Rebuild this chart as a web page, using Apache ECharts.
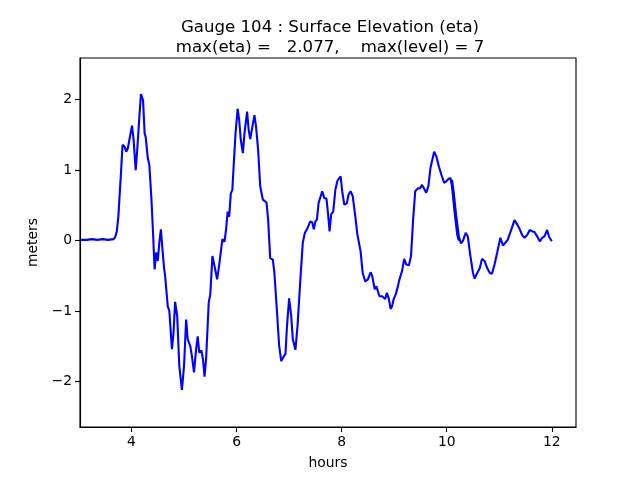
<!DOCTYPE html>
<html>
<head>
<meta charset="utf-8">
<script src="https://cdn.jsdelivr.net/npm/echarts@6/dist/echarts.min.js"></script>
<style>html,body{margin:0;padding:0;background:#fff}#c{width:640px;height:480px}</style>
</head>
<body>
<div id="c"></div>
<script>
var titleText = 'Gauge 104 : Surface Elevation (eta)\nmax(eta) =   2.077,    max(level) = 7';
var xTicks = [4, 6, 8, 10, 12];
var yTicks = [-2, -1, 0, 1, 2];
var hours = [
  3.04, 3.15, 3.25, 3.35, 3.45, 3.55, 3.66, 3.69, 3.72, 3.75, 3.80, 3.83, 3.87, 3.90, 3.93, 3.96,
  4.01, 4.04, 4.08, 4.11, 4.15, 4.18, 4.22, 4.25, 4.27, 4.31, 4.34, 4.38, 4.41, 4.44, 4.47, 4.50,
  4.53, 4.56, 4.59, 4.62, 4.64, 4.69, 4.72, 4.77, 4.80, 4.83, 4.87, 4.91, 4.96, 5.00, 5.04, 5.07,
  5.12, 5.15, 5.19, 5.23, 5.26, 5.29, 5.33, 5.36, 5.39, 5.42, 5.47, 5.50, 5.54, 5.58, 5.63, 5.67,
  5.70, 5.73, 5.77, 5.80, 5.83, 5.86, 5.89, 5.92, 5.94, 5.98, 6.02, 6.05, 6.08, 6.12, 6.15, 6.20,
  6.23, 6.26, 6.29, 6.34, 6.37, 6.41, 6.45, 6.50, 6.57, 6.60, 6.64, 6.69, 6.72, 6.77, 6.81, 6.85,
  6.90, 6.93, 6.96, 7.00, 7.04, 7.07, 7.12, 7.16, 7.21, 7.26, 7.30, 7.34, 7.37, 7.40, 7.44, 7.47,
  7.50, 7.53, 7.56, 7.63, 7.67, 7.71, 7.74, 7.77, 7.80, 7.84, 7.88, 7.92, 7.98, 8.01, 8.05, 8.10,
  8.13, 8.17, 8.21, 8.26, 8.30, 8.36, 8.40, 8.45, 8.50, 8.55, 8.58, 8.63, 8.66, 8.69, 8.72, 8.77,
  8.80, 8.83, 8.86, 8.90, 8.93, 8.96, 8.99, 9.03, 9.07, 9.10, 9.15, 9.19, 9.23, 9.28, 9.32, 9.36,
  9.40, 9.45, 9.49, 9.53, 9.58, 9.61, 9.65, 9.69, 9.76, 9.80, 9.85, 9.90, 9.95, 9.99, 10.03, 10.07,
  10.10, 10.15, 10.20, 10.23, 10.10, 10.13, 10.18, 10.23, 10.27, 10.31, 10.36, 10.40, 10.45, 10.50,
  10.53, 10.58, 10.63, 10.67, 10.72, 10.77, 10.82, 10.86, 10.91, 10.96, 11.02, 11.07, 11.10, 11.16,
  11.23, 11.29, 11.34, 11.39, 11.44, 11.48, 11.53, 11.58, 11.63, 11.67, 11.72, 11.77, 11.82, 11.86,
  11.91, 11.95, 11.98, 12.00
];
var eta = [
  0.01, 0.01, 0.02, 0.01, 0.02, 0.01, 0.02, 0.05, 0.13, 0.34, 0.96, 1.36, 1.33, 1.26, 1.31, 1.29,
  1.63, 1.43, 1.00, 1.29, 1.76, 2.077, 1.99, 1.52, 1.47, 1.17, 1.07, 0.58, 0.11, -0.41, -0.17, -0.29,
  -0.03, 0.16, -0.13, -0.39, -0.50, -0.93, -1.00, -1.54, -1.31, -0.87, -1.07, -1.78, -2.12, -1.78, -1.12, -1.40,
  -1.50, -1.64, -1.87, -1.54, -1.36, -1.59, -1.56, -1.68, -1.93, -1.68, -0.88, -0.76, -0.22, -0.36, -0.55, -0.34,
  -0.34, 0.02, -0.02, 0.16, 0.41, 0.34, 0.67, 0.72, 1.00, 1.52, 1.87, 1.71, 1.43, 1.24, 1.52, 1.83,
  1.57, 1.44, 1.44, 1.78, 1.62, 1.29, 0.77, 0.58, 0.54, 0.30, -0.25, -0.27, -0.46, -1.02, -1.49, -1.71,
  -1.64, -1.61, -1.21, -0.82, -1.07, -1.40, -1.55, -1.21, -0.60, -0.03, 0.11, 0.16, 0.16, 0.27, 0.26, 0.16,
  0.27, 0.30, 0.53, 0.70, 0.60, 0.60, 0.39, 0.13, 0.37, 0.41, 0.72, 0.85, 0.91, 0.70, 0.51, 0.53,
  0.65, 0.70, 0.63, 0.34, 0.08, -0.15, -0.46, -0.58, -0.55, -0.45, -0.50, -0.69, -0.65, -0.66, -0.79, -0.79,
  -0.78, -0.83, -0.74, -0.83, -0.97, -0.93, -0.83, -0.76, -0.65, -0.55, -0.43, -0.26, -0.34, -0.35, -0.22, 0.30,
  0.70, 0.74, 0.74, 0.79, 0.72, 0.68, 0.77, 1.03, 1.26, 1.20, 1.05, 0.93, 0.82, 0.84, 0.87, 0.89,
  0.77, 0.40, 0.08, 0.00, 0.86, 0.70, 0.35, 0.06, -0.04, 0.00, 0.11, 0.06, -0.22, -0.46,
  -0.54, -0.46, -0.39, -0.26, -0.29, -0.39, -0.46, -0.47, -0.34, -0.17, 0.04, -0.07, -0.07, 0.01,
  0.16, 0.29, 0.23, 0.16, 0.07, 0.04, 0.08, 0.15, 0.13, 0.12, 0.06, -0.01, 0.04, 0.06,
  0.15, 0.05, 0.04, -0.01
];
var pts = hours.map(function (h, i) { return [h, eta[i]]; });
function fmt(v) { return v < 0 ? '\u2212' + Math.abs(v) : String(v); }
var FONT = 'DejaVu Sans';
var chart = echarts.init(document.getElementById('c'), null, { renderer: 'canvas' });
chart.setOption({
  animation: false,
  backgroundColor: '#ffffff',
  title: {
    text: titleText,
    left: 325, top: 13, textAlign: 'center',
    textStyle: { fontFamily: FONT, fontSize: 16.6, fontWeight: 'normal', color: '#000', lineHeight: 19.5 }
  },
  grid: { left: 80, right: 64, top: 58, bottom: 53, show: true, borderColor: '#000', borderWidth: 1.1, backgroundColor: 'transparent' },
  xAxis: {
    type: 'value', min: 3.02, max: 12.46,
    name: 'hours', nameLocation: 'middle', nameGap: 29,
    nameTextStyle: { fontFamily: FONT, fontSize: 13.9, color: '#000' },
    axisLine: { show: true, onZero: false, lineStyle: { color: '#000', width: 1.1 } },
    axisTick: { show: true, inside: false, length: 5, lineStyle: { color: '#000', width: 1.1 }, customValues: xTicks },
    axisLabel: { fontFamily: FONT, fontSize: 13.9, color: '#000', margin: 8, customValues: xTicks, formatter: fmt },
    splitLine: { show: false }
  },
  yAxis: {
    type: 'value', min: -2.645, max: 2.59,
    name: 'meters', nameLocation: 'middle', nameGap: 33, nameRotate: 90,
    nameTextStyle: { fontFamily: FONT, fontSize: 13.9, color: '#000' },
    axisLine: { show: true, onZero: false, lineStyle: { color: '#000', width: 1.1 } },
    axisTick: { show: true, inside: false, length: 5, lineStyle: { color: '#000', width: 1.1 }, customValues: yTicks },
    axisLabel: { fontFamily: FONT, fontSize: 13.9, color: '#000', margin: 8, customValues: yTicks, formatter: fmt },
    splitLine: { show: false }
  },
  series: [{
    type: 'line', data: pts, showSymbol: false, symbol: 'none', smooth: false,
    lineStyle: { color: '#0000ff', width: 2.1 }, clip: true
  }]
});
</script>
</body>
</html>
